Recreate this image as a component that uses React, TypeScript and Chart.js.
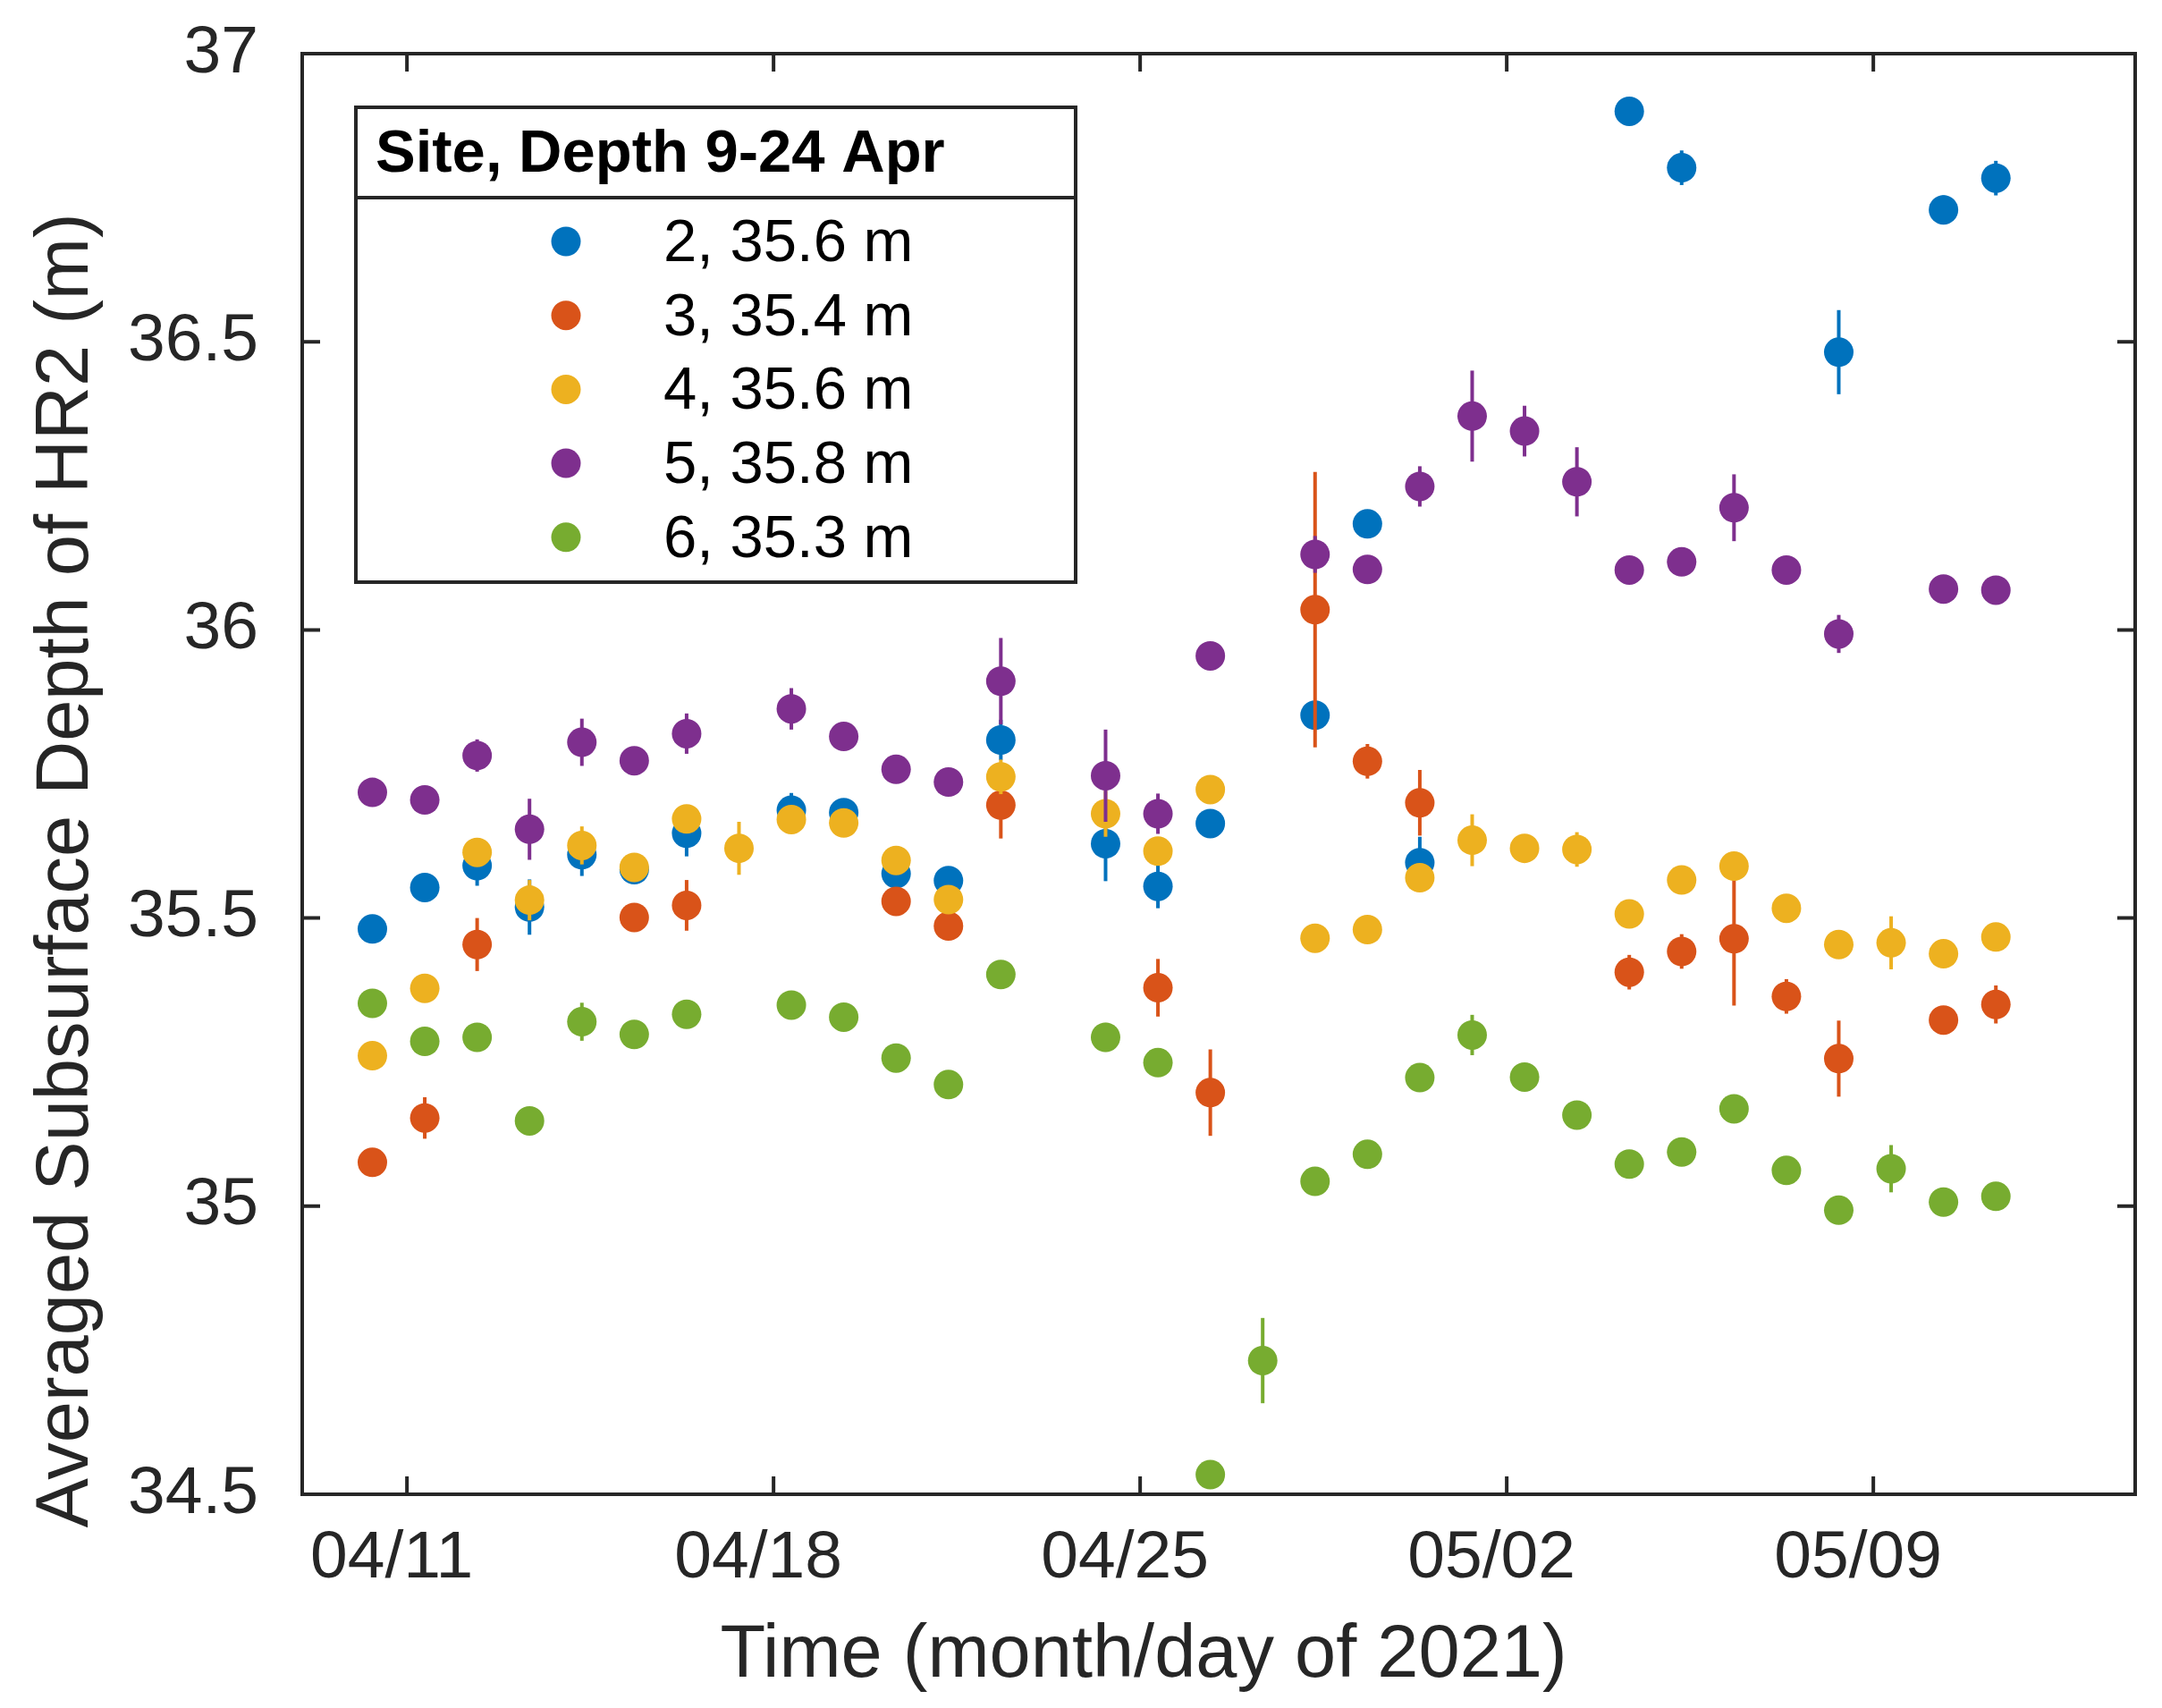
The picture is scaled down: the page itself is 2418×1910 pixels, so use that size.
import { useEffect, useRef } from 'react';
import { Chart, registerables } from 'chart.js';

Chart.register(...registerables);

const FONT = "'Liberation Sans', Arial, Helvetica, sans-serif";
const AXIS = '#262626';

// sample times, in days counted from 1 April 2021 (32 = 2 May)
const DAYS = [
  10.34, 11.34, 12.34, 13.34, 14.34, 15.34, 16.34, 17.34, 18.34, 19.34, 20.34,
  21.34, 22.34, 23.34, 24.34, 25.34, 26.34, 27.34, 28.34, 29.34, 30.34, 31.34,
  32.34, 33.34, 34.34, 35.34, 36.34, 37.34, 38.34, 39.34, 40.34, 41.34,
];
const TICK_DAYS = [11, 18, 25, 32, 39];
const TICK_LABELS = ['04/11', '04/18', '04/25', '05/02', '05/09'];
const Y_TICKS = [34.5, 35, 35.5, 36, 36.5, 37];

const SITE_LABELS = ['2, 35.6 m', '3, 35.4 m', '4, 35.6 m', '5, 35.8 m', '6, 35.3 m'];
const SITE_COLORS = ['#0072BD', '#D95319', '#EDB120', '#7E2F8E', '#77AC30'];

const SITE2 = [
  35.481, 35.553, 35.591, 35.519, 35.610, 35.584, 35.647, null, 35.687, 35.683, 35.577,
  35.565, 35.809, null, 35.629, 35.555, 35.664, null, 35.852, 36.184, 35.596, null,
  null, null, 36.900, 36.802, null, null, 36.482, null, 36.729, 36.784,
];
const SITE2_ERR = [
  0.02, 0.02, 0.035, 0.048, 0.037, 0.02, 0.04, null, 0.03, 0.02, 0.02,
  0.02, 0.035, null, 0.065, 0.038, 0.02, null, 0.02, 0.02, 0.045, null,
  null, null, 0.02, 0.03, null, null, 0.073, null, 0.025, 0.03,
];
const SITE3 = [
  35.076, 35.153, 35.454, null, null, 35.501, 35.522, null, null, null, 35.529,
  35.486, 35.696, null, null, 35.379, 35.197, null, 36.035, 35.772, 35.700, null,
  null, null, 35.406, 35.442, 35.464, 35.364, 35.256, null, 35.323, 35.350,
];
const SITE3_ERR = [
  0.02, 0.036, 0.046, null, null, 0.02, 0.044, null, null, null, 0.02,
  0.02, 0.058, null, null, 0.05, 0.075, null, 0.239, 0.03, 0.057, null,
  null, null, 0.03, 0.03, 0.116, 0.03, 0.066, null, 0.02, 0.033,
];
const SITE4 = [
  35.261, 35.378, 35.614, 35.531, 35.626, 35.588, 35.672, 35.621, 35.671, 35.665, 35.600,
  35.532, 35.745, null, 35.681, 35.616, 35.723, null, 35.465, 35.480, 35.570, 35.635,
  35.621, 35.619, 35.507, 35.566, 35.590, 35.517, 35.454, 35.457, 35.438, 35.467,
];
const SITE4_ERR = [
  0.02, 0.02, 0.02, 0.035, 0.033, 0.02, 0.02, 0.046, 0.02, 0.02, 0.02,
  0.02, 0.03, null, 0.04, 0.02, 0.02, null, 0.02, 0.02, 0.02, 0.045,
  0.02, 0.03, 0.02, 0.02, 0.02, 0.02, 0.02, 0.046, 0.02, 0.02,
];
const SITE5 = [
  35.718, 35.705, 35.782, 35.654, 35.805, 35.773, 35.820, null, 35.863, 35.815, 35.758,
  35.736, 35.911, null, 35.747, 35.681, 35.955, null, 36.131, 36.105, 36.249, 36.371,
  36.345, 36.257, 36.104, 36.118, 36.212, 36.104, 35.993, null, 36.071, 36.069,
];
const SITE5_ERR = [
  0.02, 0.02, 0.028, 0.053, 0.041, 0.02, 0.035, null, 0.036, 0.02, 0.02,
  0.02, 0.075, null, 0.08, 0.035, 0.02, null, 0.032, 0.02, 0.035, 0.079,
  0.044, 0.06, 0.02, 0.02, 0.058, 0.02, 0.033, null, 0.02, 0.02,
];
const SITE6 = [
  35.352, 35.286, 35.293, 35.148, 35.320, 35.298, 35.333, null, 35.349, 35.328, 35.257,
  35.211, 35.402, null, 35.293, 35.249, 34.534, 34.732, 35.043, 35.090, 35.223, 35.297,
  35.224, 35.158, 35.073, 35.094, 35.169, 35.062, 34.993, 35.065, 35.007, 35.017,
];
const SITE6_ERR = [
  0.02, 0.02, 0.02, 0.02, 0.033, 0.02, 0.02, null, 0.02, 0.02, 0.02,
  0.02, 0.02, null, 0.025, 0.02, 0.02, 0.074, 0.02, 0.02, 0.02, 0.035,
  0.02, 0.02, 0.02, 0.02, 0.02, 0.02, 0.02, 0.041, 0.02, 0.02,
];

const SERIES = [
  [SITE2, SITE2_ERR],
  [SITE3, SITE3_ERR],
  [SITE4, SITE4_ERR],
  [SITE5, SITE5_ERR],
  [SITE6, SITE6_ERR],
];

const toPoints = (ys: (number | null)[], errs: (number | null)[]) =>
  DAYS.map((x, i) => ({ x, y: ys[i], err: errs[i] })).filter((p) => p.y !== null);

// vertical error bars, drawn just before each series' markers
const errorBars = {
  id: 'errorBars',
  beforeDatasetDraw(chart: any, args: any) {
    const ds = chart.data.datasets[args.index];
    const { ctx, scales: { x, y } } = chart;
    ctx.save();
    ctx.strokeStyle = ds.backgroundColor;
    ctx.lineWidth = 4;
    ds.data.forEach((p: any) => {
      if (p.err == null) return;
      const px = x.getPixelForValue(p.x);
      ctx.beginPath();
      ctx.moveTo(px, y.getPixelForValue(p.y - p.err));
      ctx.lineTo(px, y.getPixelForValue(p.y + p.err));
      ctx.stroke();
    });
    ctx.restore();
  },
};

// matlab style box with inward ticks, axis titles and the boxed legend
const frame = {
  id: 'frame',
  afterDatasetsDraw(chart: any) {
    const { ctx, chartArea: a, scales: { x, y } } = chart;
    ctx.save();
    ctx.strokeStyle = AXIS;
    ctx.lineWidth = 4;
    ctx.strokeRect(a.left, a.top, a.right - a.left, a.bottom - a.top);
    ctx.beginPath();
    Y_TICKS.forEach((v) => {
      const py = y.getPixelForValue(v);
      ctx.moveTo(a.left, py); ctx.lineTo(a.left + 20, py);
      ctx.moveTo(a.right, py); ctx.lineTo(a.right - 20, py);
    });
    TICK_DAYS.forEach((v) => {
      const px = x.getPixelForValue(v);
      ctx.moveTo(px, a.bottom); ctx.lineTo(px, a.bottom - 20);
      ctx.moveTo(px, a.top); ctx.lineTo(px, a.top + 20);
    });
    ctx.stroke();

    ctx.fillStyle = AXIS;
    ctx.font = `83px ${FONT}`;
    ctx.textAlign = 'center';
    ctx.textBaseline = 'alphabetic';
    ctx.fillText('Time (month/day of 2021)', (a.left + a.right) / 2 - 84, a.bottom + 204);
    ctx.save();
    ctx.translate(a.left - 240, (a.top + a.bottom) / 2 + 108);
    ctx.rotate(-Math.PI / 2);
    ctx.fillText('Averaged Subsurface Depth of HR2 (m)', 0, 0);
    ctx.restore();

    // legend
    const bx = a.left + 60;
    const by = a.top + 60;
    const bw = 805;
    const bh = 531;
    ctx.fillStyle = '#FFFFFF';
    ctx.fillRect(bx, by, bw, bh);
    ctx.strokeRect(bx, by, bw, bh);
    ctx.beginPath();
    ctx.moveTo(bx, by + 101);
    ctx.lineTo(bx + bw, by + 101);
    ctx.stroke();
    ctx.fillStyle = '#000000';
    ctx.textAlign = 'left';
    ctx.font = `bold 67px ${FONT}`;
    ctx.fillText('Site, Depth 9-24 Apr', bx + 22, by + 72);
    ctx.font = `67px ${FONT}`;
    SITE_LABELS.forEach((label, i) => {
      const my = by + 150 + i * 82.7;
      ctx.fillStyle = SITE_COLORS[i];
      ctx.beginPath();
      ctx.arc(bx + 235, my, 16.5, 0, Math.PI * 2);
      ctx.fill();
      ctx.fillStyle = '#000000';
      ctx.fillText(label, bx + 344, my + 22);
    });
    ctx.restore();
  },
};

export default function App() {
  const ref = useRef<HTMLCanvasElement>(null);
  useEffect(() => {
    document.body.style.margin = '0';
    if (!ref.current) return;
    const c = new Chart(ref.current, {
      type: 'scatter',
      data: {
        datasets: SERIES.map(([ys, errs], i) => ({
          label: SITE_LABELS[i],
          data: toPoints(ys, errs),
          backgroundColor: SITE_COLORS[i],
          borderColor: SITE_COLORS[i],
          pointRadius: 16.5,
          pointHoverRadius: 16.5,
          pointBorderWidth: 0,
          order: SERIES.length - i,
        })),
      },
      options: {
        animation: false,
        responsive: true,
        maintainAspectRatio: false,
        devicePixelRatio: 1,
        events: [],
        layout: { padding: { top: 60, right: 30, left: 0, bottom: 0 } },
        scales: {
          x: {
            type: 'linear',
            min: 9,
            max: 44,
            grid: { display: false, drawTicks: false },
            border: { display: false },
            afterBuildTicks: (s: any) => { s.ticks = TICK_DAYS.map((value) => ({ value })); },
            afterFit: (s: any) => {
              s.height = 239;
              s.paddingLeft = 0;
              s.paddingRight = 0;
            },
            ticks: {
              autoSkip: false,
              maxRotation: 0,
              minRotation: 0,
              padding: 27,
              labelOffset: -17,
              color: AXIS,
              font: { family: FONT, size: 75 },
              callback: (v: any) => TICK_LABELS[TICK_DAYS.indexOf(Number(v))],
            },
          },
          y: {
            min: 34.5,
            max: 37,
            grid: { display: false, drawTicks: false },
            border: { display: false },
            afterBuildTicks: (s: any) => { s.ticks = Y_TICKS.map((value) => ({ value })); },
            afterFit: (s: any) => {
              s.width = 338;
              s.paddingTop = 0;
              s.paddingBottom = 0;
            },
            ticks: {
              padding: 49,
              color: AXIS,
              font: { family: FONT, size: 75 },
              callback: (v: any) => String(v),
            },
          },
        },
        plugins: {
          legend: { display: false },
          tooltip: { enabled: false },
        },
      },
      plugins: [errorBars, frame],
    });
    return () => c.destroy();
  }, []);
  return (
    <div style={{ position: 'relative', width: 2418, height: 1910, background: '#FFFFFF' }}>
      <canvas ref={ref} />
    </div>
  );
}
